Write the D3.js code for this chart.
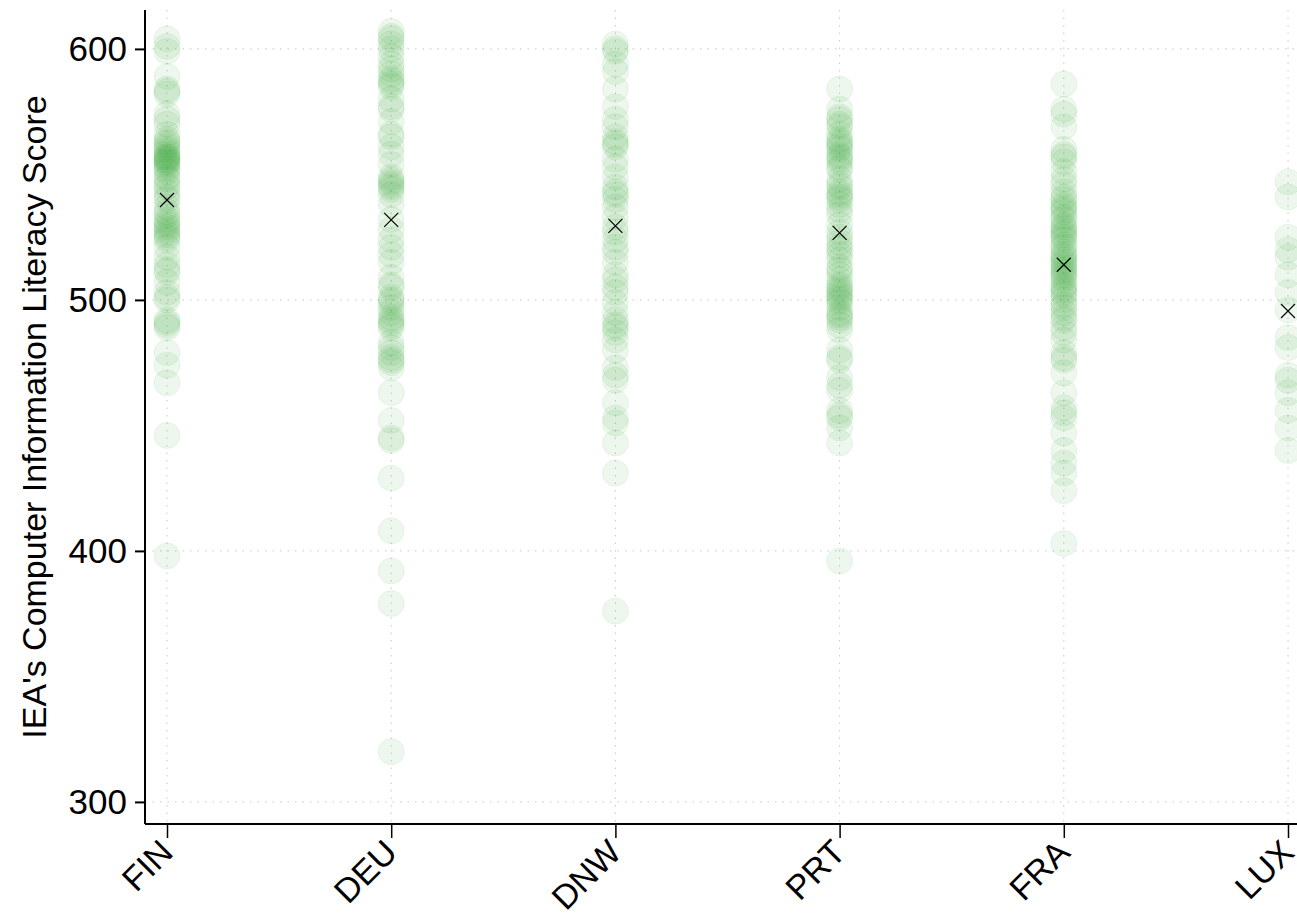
<!DOCTYPE html>
<html><head><meta charset="utf-8">
<script src="https://cdn.jsdelivr.net/npm/d3@7"></script>
<style>body{margin:0;background:#fff}svg{display:block}text{font-family:"Liberation Sans",Arial,sans-serif}</style>
</head><body><svg id="c" width="1297" height="913"></svg>
<script>
const countries = ["FIN","DEU","DNW","PRT","FRA","LUX"];
const finScores = [604,601,599,589,584,583,582,574,572,570,566,564,563,562,561,560,559,558,557,557,556,556,555,555,554,553,552,551,549,548,546,545,543,541,540,537,535,534,532,531,530,529,528,527,526,525,524,521,517,514,512,511,507,503,501,500,492,491,490,489,479,474,467,446,398];
const deuScores = [607,605,604,602,600,597,594,592,590,588,587,586,585,580,577,576,571,566,565,561,558,554,549,548,547,546,545,544,542,538,532,528,524,521,518,515,509,506,505,501,500,499,497,495,493,492,491,490,489,483,481,479,477,476,475,473,463,452,445,444,429,408,392,379,320];
const dnwScores = [602,600,599,594,591,584,577,572,569,565,563,562,561,556,553,549,545,543,542,540,537,533,529,527,524,521,519,515,510,508,505,503,499,495,492,490,489,487,484,480,473,470,468,459,453,451,443,431,376];
const prtScores = [584,576,573,572,570,569,566,564,563,562,561,560,558,557,556,555,553,552,548,546,545,543,542,541,540,538,536,534,530,527,525,523,521,520,518,516,513,512,510,508,506,505,504,503,502,501,500,499,497,495,494,493,492,490,488,480,477,476,469,466,464,456,454,453,449,443,396];
const fraScores = [586,576,574,569,560,558,557,555,551,548,546,543,541,540,538,537,536,535,533,532,530,529,528,527,526,525,524,522,521,519,518,517,516,515,514,513,512,511,510,509,508,506,505,504,503,502,500,498,497,495,493,492,489,487,484,479,477,476,471,463,457,455,453,447,440,435,431,424,403];
const luxScores = [547,541,525,520,517,510,503,496,485,481,470,468,463,456,449,440];
const meanScores = [539.8,531.9,529.5,526.7,514.0,495.6];
const yTicks = [300,400,500,600];
const yLabel = "IEA's Computer Information Literacy Score";

(function(){
const scores = [finScores,deuScores,dnwScores,prtScores,fraScores,luxScores];
const svg = d3.select("#c");
const pL = 145, pR = 1297, pT = 10, pB = 824;
const FS = 34;
const x = d3.scalePoint().domain(countries).range([167,1288]);
const y = d3.scaleLinear().domain([291.2,615.5]).range([pB, pT]);

const g = svg.append("g");
g.selectAll(".hg").data(yTicks).join("line")
  .attr("x1", pL).attr("x2", pR).attr("y1", d=>y(d)).attr("y2", d=>y(d))
  .attr("stroke","#c8c8c8").attr("stroke-width",1).attr("stroke-dasharray","1.5,6");
g.selectAll(".vg").data(countries).join("line")
  .attr("x1", d=>x(d)).attr("x2", d=>x(d)).attr("y1", pT).attr("y2", pB)
  .attr("stroke","#c8c8c8").attr("stroke-width",1).attr("stroke-dasharray","1.5,6");

const pts = [];
countries.forEach((c,i)=>scores[i].forEach(v=>pts.push({c,v})));
svg.append("g").selectAll("circle").data(pts).join("circle")
  .attr("cx", d=>x(d.c)).attr("cy", d=>y(d.v)).attr("r", 13)
  .attr("fill","#2ca02c").attr("fill-opacity",0.085)
  .attr("stroke","#2ca02c").attr("stroke-opacity",0.08).attr("stroke-width",1);

const mg = svg.append("g");
countries.forEach((c,i)=>{
  const cx = x(c), cy = y(meanScores[i]), s = 7;
  mg.append("path").attr("d",`M${cx-s},${cy-s}L${cx+s},${cy+s}M${cx-s},${cy+s}L${cx+s},${cy-s}`)
    .attr("stroke","#000").attr("stroke-width",1.2).attr("fill","none");
});

const ya = svg.append("g").attr("transform",`translate(${pL},0)`)
  .call(d3.axisLeft(y).tickValues(yTicks).tickSize(10).tickPadding(8));
ya.select(".domain").attr("d",`M0,${pT}V${pB}`).attr("stroke-width",2);
ya.selectAll(".tick line").attr("stroke-width",2);
ya.selectAll("text").attr("font-size",FS+1).attr("fill","#000");

const xa = svg.append("g").attr("transform",`translate(0,${pB})`)
  .call(d3.axisBottom(x).tickSize(14).tickPadding(6));
xa.select(".domain").attr("d",`M${pL},0H${pR}`).attr("stroke-width",2);
xa.selectAll(".tick line").attr("stroke-width",1.5);
xa.selectAll("text").attr("font-size",FS).attr("fill","#000")
  .attr("x",0).attr("y",0)
  .attr("text-anchor","end").attr("dy","0.35em")
  .attr("transform","translate(-1,22) rotate(-45)");

svg.append("text").attr("transform",`translate(46,${(pT+pB)/2}) rotate(-90)`)
  .attr("text-anchor","middle").attr("font-size",FS).text(yLabel);
})();
</script></body></html>
